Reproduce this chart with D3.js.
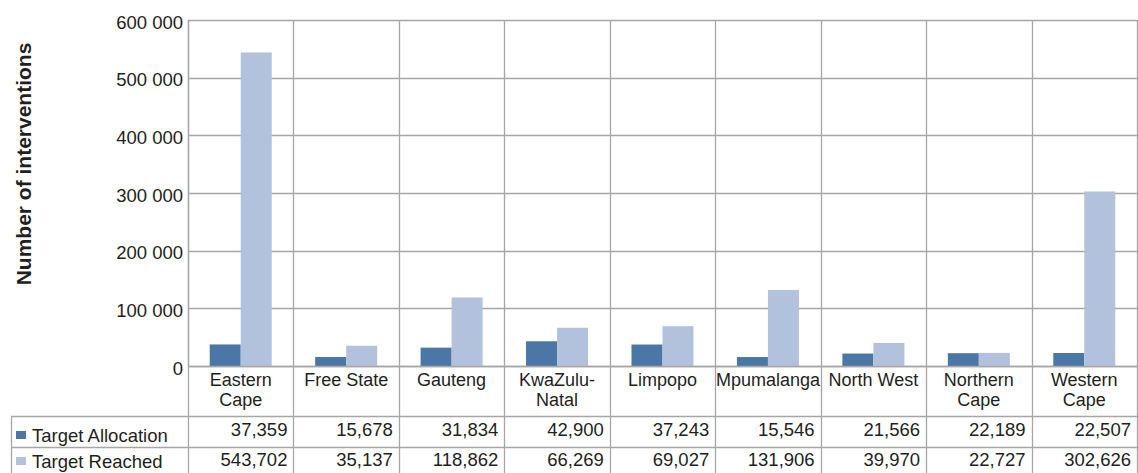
<!DOCTYPE html>
<html>
<head>
<meta charset="utf-8">
<script src="https://cdn.jsdelivr.net/npm/d3@7"></script>
<style>
  body { margin: 0; background: #fff; }
  svg { display: block; font-family: "Liberation Sans", Arial, sans-serif; }
</style>
</head>
<body>
<div id="chart"></div>
<script>
// Provinces and the two series shown in the chart + data table
const provinces = ['Eastern Cape', 'Free State', 'Gauteng', 'KwaZulu-Natal', 'Limpopo',
  'Mpumalanga', 'North West', 'Northern Cape', 'Western Cape'];
const provinceLines = [['Eastern', 'Cape'], ['Free State'], ['Gauteng'], ['KwaZulu-', 'Natal'], ['Limpopo'],
  ['Mpumalanga'], ['North West'], ['Northern', 'Cape'], ['Western', 'Cape']];
const targetAllocation = [37359, 15678, 31834, 42900, 37243, 15546, 21566, 22189, 22507];
const targetReached = [543702, 35137, 118862, 66269, 69027, 131906, 39970, 22727, 302626];
const seriesNames = ['Target Allocation', 'Target Reached'];
const yTicks = [0, 100000, 200000, 300000, 400000, 500000, 600000];

const W = 1138, H = 473;
const M = { left: 188, right: 1137, top: 20, bottom: 366 };
const colors = ['#4a77a5', '#b3c2dc'];
const gridColor = '#a6a6a6';
const textColor = '#231f20';
const FS = 18.5;

const svg = d3.select('#chart').append('svg')
  .attr('width', W).attr('height', H);

const x = d3.scaleBand().domain(provinces).range([M.left, M.right]).paddingInner(0).paddingOuter(0);
const xs = d3.scaleBand().domain(seriesNames).range([0, x.bandwidth()]).paddingOuter(0.7).paddingInner(0);
const y = d3.scaleLinear().domain([0, 600000]).range([M.bottom, M.top]);

// horizontal gridlines
svg.append('g').selectAll('line')
  .data(yTicks).join('line')
  .attr('x1', M.left).attr('x2', M.right)
  .attr('y1', d => Math.round(y(d)) + 0.5).attr('y2', d => Math.round(y(d)) + 0.5)
  .attr('stroke', gridColor).attr('stroke-width', 1.3);

// vertical category lines, extending through the table
const rowTop = 416, rowMid = 447, tableBottom = H;
const vx = provinces.map(p => x(p)).concat([M.right]);
svg.append('g').selectAll('line')
  .data(vx).join('line')
  .attr('x1', d => Math.round(d) + 0.5).attr('x2', d => Math.round(d) + 0.5)
  .attr('y1', M.top).attr('y2', tableBottom)
  .attr('stroke', gridColor).attr('stroke-width', 1.3);

// table horizontal lines
svg.append('g').selectAll('line')
  .data([rowTop, rowMid]).join('line')
  .attr('x1', 11).attr('x2', M.right)
  .attr('y1', d => d + 0.5).attr('y2', d => d + 0.5)
  .attr('stroke', gridColor).attr('stroke-width', 1.3);
svg.append('line')
  .attr('x1', 11.5).attr('x2', 11.5).attr('y1', rowTop).attr('y2', tableBottom)
  .attr('stroke', gridColor).attr('stroke-width', 1.3);

// bars
const series = [targetAllocation, targetReached];
series.forEach((vals, si) => {
  svg.append('g').selectAll('rect')
    .data(vals).join('rect')
    .attr('x', (d, i) => x(provinces[i]) + xs(seriesNames[si]))
    .attr('width', xs.bandwidth())
    .attr('y', d => y(d))
    .attr('height', d => y(0) - y(d))
    .attr('fill', colors[si]);
});

// baseline
svg.append('line')
  .attr('x1', M.left).attr('x2', M.right)
  .attr('y1', y(0) + 0.5).attr('y2', y(0) + 0.5)
  .attr('stroke', gridColor).attr('stroke-width', 1.5);

// y axis
const yAxis = svg.append('g')
  .attr('transform', `translate(${M.left},0)`)
  .call(d3.axisLeft(y).tickValues(yTicks).tickSize(0).tickPadding(5)
    .tickFormat(d => d3.format(',')(d).replace(/,/g, ' ')));
yAxis.select('.domain').attr('stroke', gridColor).attr('stroke-width', 1.3);
yAxis.selectAll('text').attr('font-size', FS).attr('fill', textColor)
  .attr('font-family', '"Liberation Sans", Arial, sans-serif')
  .attr('dy', '0.45em');

svg.append('text')
  .attr('transform', `translate(31,164) rotate(-90)`)
  .attr('text-anchor', 'middle')
  .attr('font-size', 21).attr('font-weight', 'bold').attr('fill', textColor)
  .text('Number of interventions');

// category labels (one text per line)
provinces.forEach((p, i) => {
  svg.append('g').selectAll('text')
    .data(provinceLines[i]).join('text')
    .attr('x', x(p) + x.bandwidth() / 2)
    .attr('y', (t, j) => 386 + j * 19.5)
    .attr('text-anchor', 'middle')
    .attr('font-size', 18).attr('fill', textColor)
    .text(t => t);
});

// data table rows
const rowY = [442, 468];
const valY = [436, 466];
series.forEach((vals, si) => {
  svg.append('rect')
    .attr('x', 16).attr('y', rowY[si] - 11)
    .attr('width', 10).attr('height', 8)
    .attr('fill', colors[si]);
  svg.append('text')
    .attr('x', 32).attr('y', rowY[si])
    .attr('font-size', FS).attr('fill', textColor)
    .text(seriesNames[si]);
  svg.append('g').selectAll('text')
    .data(vals).join('text')
    .attr('x', (d, i) => x(provinces[i]) + x.bandwidth() - 6)
    .attr('y', valY[si])
    .attr('text-anchor', 'end')
    .attr('font-size', FS).attr('fill', textColor)
    .text(d => d3.format(',')(d));
});
</script>
</body>
</html>
